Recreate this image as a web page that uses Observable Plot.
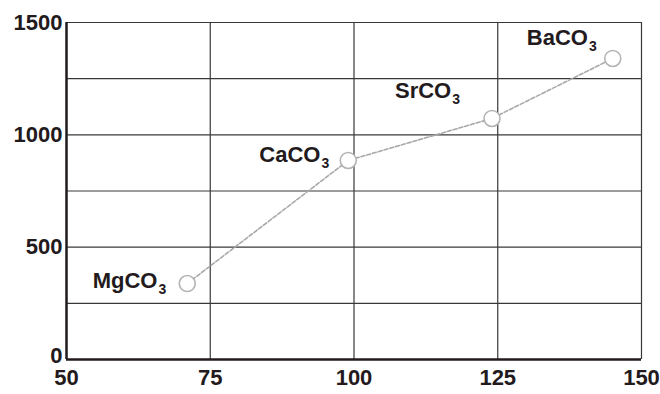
<!DOCTYPE html>
<html>
<head>
<meta charset="utf-8">
<script src="https://cdn.jsdelivr.net/npm/d3@7"></script>
<script src="https://cdn.jsdelivr.net/npm/@observablehq/plot@0.6"></script>
<style>
  html, body { margin: 0; padding: 0; background: #fff; }
  #chart svg { display: block; }
</style>
</head>
<body>
<div id="chart"></div>
<script>
// Data
const compounds = ["MgCO3", "CaCO3", "SrCO3", "BaCO3"];
const radius = [71, 99, 124, 145];          // x values
const temperature = [338, 886, 1073, 1340]; // y values

// Axis ticks and gridlines
const xTicks = [50, 75, 100, 125, 150];
const yTicks = [0, 500, 1000, 1500];
const xGrid = [75, 100, 125, 150];
const yGrid = [250, 500, 750, 1000, 1250, 1500];

const data = compounds.map((c, i) => ({name: c, x: radius[i], y: temperature[i]}));

const ink = "#231a1d";
const gridInk = "#383838";
const font = "'Liberation Sans', Arial, Helvetica, sans-serif";

const chart = Plot.plot({
  width: 660,
  height: 394,
  marginLeft: 66,
  marginRight: 19,
  marginTop: 22,
  marginBottom: 35,
  style: {fontFamily: font, fontSize: "22px", fontWeight: "bold", color: ink, background: "#fff"},
  x: {domain: [50, 150]},
  y: {domain: [0, 1500]},
  marks: [
    Plot.ruleX(xGrid, {stroke: gridInk, strokeWidth: 1.2}),
    Plot.ruleY(yGrid, {stroke: gridInk, strokeWidth: 1.2}),
    Plot.ruleY([0], {stroke: ink, strokeWidth: 2.5}),
    Plot.ruleX([50], {stroke: ink, strokeWidth: 2.5}),
    Plot.axisX({ticks: xTicks, tickSize: 0, tickPadding: 10, tickFormat: d => String(d), fill: ink, label: null}),
    Plot.axisY({ticks: yTicks.filter(d => d !== 0), tickSize: 0, tickPadding: 4, tickFormat: d => String(d), fill: ink, label: null}),
    Plot.axisY({ticks: [0], tickSize: 0, tickPadding: 4, dy: -4, tickFormat: d => String(d), fill: ink, label: null}),
    Plot.line(data, {x: "x", y: "y", stroke: "#a8a8a8", strokeWidth: 1.6, strokeDasharray: "4,2"}),
    Plot.dot(data, {x: "x", y: "y", r: 8, stroke: "#b4b4b4", strokeWidth: 1.6, fill: "#fff"}),
    Plot.text(data.filter((d, i) => i === 0), {x: "x", y: "y", text: "name", textAnchor: "end", dx: -21, dy: -3, fill: ink, className: "chem"}),
    Plot.text(data.filter((d, i) => i === 1), {x: "x", y: "y", text: "name", textAnchor: "end", dx: -19, dy: -5, fill: ink, className: "chem"}),
    Plot.text(data.filter((d, i) => i === 2), {x: "x", y: "y", text: "name", textAnchor: "end", dx: -32, dy: -27, fill: ink, className: "chem"}),
    Plot.text(data.filter((d, i) => i === 3), {x: "x", y: "y", text: "name", textAnchor: "end", dx: -16, dy: -20, fill: ink, className: "chem"})
  ]
});

document.getElementById("chart").appendChild(chart);

// Render the trailing digit of each formula as a subscript
chart.querySelectorAll(".chem text").forEach(el => {
  const t = el.textContent;
  const m = t.match(/^(.*?)(\d+)$/);
  if (!m) return;
  el.textContent = m[1];
  const sub = document.createElementNS("http://www.w3.org/2000/svg", "tspan");
  sub.setAttribute("dy", "6");
  sub.setAttribute("dx", "1");
  sub.setAttribute("font-size", "14");
  sub.textContent = m[2];
  el.appendChild(sub);
});
</script>
</body>
</html>
